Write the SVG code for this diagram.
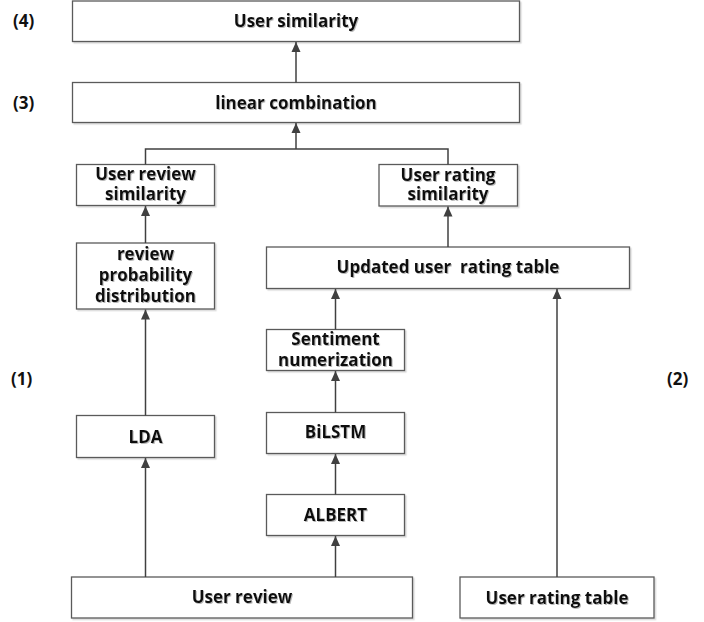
<svg xmlns="http://www.w3.org/2000/svg" width="704" height="622" viewBox="0 0 704 622">
<defs>
<marker id="ah" viewBox="0 0 10 10" refX="10" refY="5" markerWidth="10" markerHeight="10" markerUnits="userSpaceOnUse" orient="auto">
<path d="M0,0.5 L10,5 L0,9.5 Z" fill="#404040"/>
</marker>
<filter id="sh" x="-10%" y="-20%" width="120%" height="150%">
<feDropShadow dx="1" dy="1" stdDeviation="0.7" flood-color="#808080" flood-opacity="0.55"/>
</filter>
<filter id="bsh" x="-5%" y="-10%" width="110%" height="130%">
<feDropShadow dx="1.5" dy="1.5" stdDeviation="0.6" flood-color="#a0a0a0" flood-opacity="0.4"/>
</filter>
<style>
.box{fill:#fff;stroke:#5a5a5a;stroke-width:1.3;filter:url(#bsh)}
.t{font-family:"Open Sans","Noto Sans","Liberation Sans",sans-serif;font-weight:bold;font-size:17px;fill:#111;text-anchor:middle;filter:url(#sh)}
.lbl{font-family:"Open Sans","Noto Sans","Liberation Sans",sans-serif;font-weight:bold;font-size:17px;fill:#111}
.c{stroke:#404040;stroke-width:1.5;fill:none}
</style>
</defs>
<rect width="704" height="622" fill="#fff"/>
<g id="labels">
<text class="lbl" x="13" y="27">(4)</text>
<text class="lbl" x="13" y="109">(3)</text>
<text class="lbl" x="11" y="385">(1)</text>
<text class="lbl" x="667" y="385">(2)</text>
</g>
<g id="n-user-similarity"><rect class="box" x="72.5" y="1" width="447" height="40.5"/><text class="t" x="296" y="27">User similarity</text></g>
<g id="n-linear"><rect class="box" x="72.5" y="82.5" width="447" height="40"/><text class="t" x="296" y="108.5">linear combination</text></g>
<g id="n-review-sim"><rect class="box" x="76.5" y="164.5" width="138" height="41"/><text class="t" x="145.5" y="180">User review</text><text class="t" x="145.5" y="200">similarity</text></g>
<g id="n-rating-sim"><rect class="box" x="379" y="164.5" width="138.5" height="41.5"/><text class="t" x="448" y="181">User rating</text><text class="t" x="448" y="200">similarity</text></g>
<g id="n-review-prob"><rect class="box" x="76.5" y="243" width="138" height="66"/><text class="t" x="145.5" y="259.5">review</text><text class="t" x="145.5" y="280.5">probability</text><text class="t" x="145.5" y="301.5">distribution</text></g>
<g id="n-updated"><rect class="box" x="266.5" y="247" width="363" height="41.5"/><text class="t" x="448" y="273" style="white-space:pre" xml:space="preserve">Updated user  rating table</text></g>
<g id="n-sentiment"><rect class="box" x="266.5" y="329.5" width="138" height="41"/><text class="t" x="335.5" y="345">Sentiment</text><text class="t" x="335.5" y="365.5">numerization</text></g>
<g id="n-lda"><rect class="box" x="76.5" y="415.5" width="138" height="42"/><text class="t" x="145.5" y="442.5">LDA</text></g>
<g id="n-bilstm"><rect class="box" x="266.5" y="412.5" width="138" height="41"/><text class="t" x="335.5" y="438">BiLSTM</text></g>
<g id="n-albert"><rect class="box" x="266.5" y="494.5" width="138" height="41"/><text class="t" x="335.5" y="521">ALBERT</text></g>
<g id="n-user-review"><rect class="box" x="71.5" y="577" width="341" height="41"/><text class="t" x="242" y="603">User review</text></g>
<g id="n-user-rating"><rect class="box" x="460" y="577" width="194" height="41"/><text class="t" x="557" y="603.5">User rating table</text></g>
<g id="connectors">
<line class="c" x1="296" y1="82.5" x2="296" y2="42" marker-end="url(#ah)"/>
<line class="c" x1="296" y1="149" x2="296" y2="123" marker-end="url(#ah)"/>
<polyline class="c" points="145.5,164.5 145.5,149 448,149 448,164.5"/>
<line class="c" x1="145.5" y1="243" x2="145.5" y2="206" marker-end="url(#ah)"/>
<line class="c" x1="448" y1="247" x2="448" y2="206.5" marker-end="url(#ah)"/>
<line class="c" x1="145.5" y1="415.5" x2="145.5" y2="309.5" marker-end="url(#ah)"/>
<line class="c" x1="335.5" y1="329.5" x2="335.5" y2="289" marker-end="url(#ah)"/>
<line class="c" x1="335.5" y1="412.5" x2="335.5" y2="371" marker-end="url(#ah)"/>
<line class="c" x1="335.5" y1="494.5" x2="335.5" y2="454" marker-end="url(#ah)"/>
<line class="c" x1="145.5" y1="577" x2="145.5" y2="458" marker-end="url(#ah)"/>
<line class="c" x1="335.5" y1="577" x2="335.5" y2="536" marker-end="url(#ah)"/>
<line class="c" x1="557" y1="577" x2="557" y2="289" marker-end="url(#ah)"/>
</g>
</svg>
